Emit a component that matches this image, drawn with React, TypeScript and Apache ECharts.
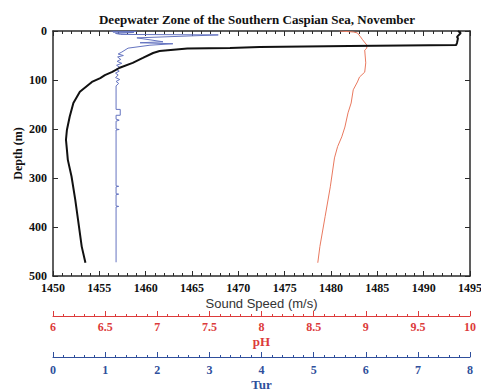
import React, { useEffect, useRef } from "react";
import * as echarts from "echarts";

// Sound speed profile: [speed (m/s), depth (m)]
const soundSpeed: [number, number][] = [
  [1493.7, 0], [1494.0, 4], [1493.6, 12], [1493.7, 15], [1493.6, 24], [1493.5, 28.6],
  [1482.0, 30.6], [1472.3, 32.7], [1469.1, 34.7], [1464.5, 35.7], [1461.5, 40.8],
  [1460.8, 44.9], [1459.7, 55], [1458.6, 65], [1457.2, 75], [1456.4, 83.5],
  [1455.6, 90], [1455.1, 96], [1454.2, 104], [1452.9, 124], [1452.2, 147],
  [1451.8, 175], [1451.5, 202], [1451.4, 222], [1451.5, 242], [1451.6, 263],
  [1452.0, 297], [1452.4, 344], [1452.7, 385], [1453.1, 440], [1453.5, 473],
];

// pH profile: [pH, depth (m)]
const phProfile: [number, number][] = [
  [8.75, 0], [8.88, 2], [8.92, 4], [8.95, 12], [8.97, 18], [9.01, 28.6], [9.01, 35],
  [8.99, 39], [9.0, 65], [8.99, 84], [8.94, 94], [8.92, 104], [8.88, 120],
  [8.86, 147], [8.83, 167], [8.8, 196], [8.77, 216], [8.73, 236], [8.7, 259],
  [8.66, 318], [8.61, 379], [8.56, 440], [8.54, 473],
];

// Turbidity profile: [Tur, depth (m)]
const turProfile: [number, number][] = [
  [1.1, 0], [1.6, 1], [1.15, 2], [1.55, 3], [1.2, 5], [1.3, 7], [3.17, 8],
  [1.61, 14], [2.11, 22], [1.67, 24], [2.3, 26], [1.86, 29], [1.44, 35],
  [1.32, 43], [1.25, 47], [1.35, 50], [1.24, 53], [1.3, 58], [1.23, 62],
  [1.32, 66], [1.22, 70], [1.28, 74], [1.21, 78], [1.27, 82], [1.2, 86],
  [1.25, 90], [1.2, 95], [1.28, 99], [1.21, 103], [1.26, 107], [1.21, 112],
  [1.21, 160], [1.29, 160], [1.29, 172], [1.21, 172], [1.21, 180], [1.27, 182],
  [1.21, 184], [1.21, 200], [1.27, 201], [1.21, 202], [1.21, 316], [1.26, 317],
  [1.21, 318], [1.21, 332], [1.26, 333], [1.21, 334], [1.21, 357], [1.26, 358],
  [1.21, 359], [1.21, 472],
];

const speedRange = [1450, 1495];
const phRange = [6, 10];
const turRange = [0, 8];
const depthRange = [0, 500];

const SERIF = "'Liberation Serif', 'Times New Roman', serif";
const SANS = "'Liberation Sans', Arial, sans-serif";
const FRAME = "#2a2a2a";
const RED = "#dc3b3b";
const RED_LINE = "#e9795f";
const BLUE = "#2f4f9c";
const BLUE_LINE = "#6574c0";

const plain = (v: number) => String(v);

export default function App() {
  const ref = useRef<HTMLDivElement>(null);

  useEffect(() => {
    if (!ref.current) return;
    const chart = echarts.init(ref.current, null, { renderer: "svg" });

    const frameTick = {
      show: true,
      inside: true,
      length: 5,
      lineStyle: { color: FRAME, width: 1 },
    };

    chart.setOption({
      animation: false,
      backgroundColor: "#ffffff",
      title: {
        text: "Deepwater Zone of the Southern Caspian Sea, November",
        left: 252,
        top: 8,
        textAlign: "center",
        textStyle: { fontFamily: SERIF, fontWeight: "bold", fontSize: 13, color: "#111" },
      },
      grid: {
        left: 53,
        top: 31,
        width: 417,
        height: 245,
        containLabel: false,
        outerBoundsMode: "none",
      },
      xAxis: [
        {
          type: "value",
          position: "bottom",
          min: speedRange[0],
          max: speedRange[1],
          interval: 5,
          name: "Sound Speed (m/s)",
          nameLocation: "middle",
          nameGap: 21,
          nameMoveOverlap: false,
          nameTextStyle: { fontFamily: SANS, fontSize: 13, color: "#333" },
          axisLine: { show: true, onZero: false, lineStyle: { color: FRAME, width: 1.5 } },
          axisTick: frameTick,
          minorTick: { show: true, splitNumber: 5, length: 3, lineStyle: { color: FRAME, width: 1 } },
          axisLabel: {
            margin: 6,
            fontFamily: SERIF,
            fontWeight: "bold",
            fontSize: 12,
            color: "#111",
            formatter: plain,
          },
          splitLine: { show: false },
        },
        {
          type: "value",
          position: "top",
          min: speedRange[0],
          max: speedRange[1],
          interval: 5,
          axisLine: { show: true, onZero: false, lineStyle: { color: FRAME, width: 1.5 } },
          axisTick: frameTick,
          minorTick: { show: true, splitNumber: 5, length: 3, lineStyle: { color: FRAME, width: 1 } },
          axisLabel: { show: false },
          splitLine: { show: false },
        },
        {
          type: "value",
          position: "bottom",
          offset: 40,
          min: phRange[0],
          max: phRange[1],
          interval: 0.5,
          name: "pH",
          nameLocation: "middle",
          nameGap: 19,
          nameMoveOverlap: false,
          nameTextStyle: { fontFamily: SERIF, fontWeight: "bold", fontSize: 13, color: RED },
          axisLine: { show: true, onZero: false, lineStyle: { color: RED, width: 1 } },
          axisTick: { show: true, inside: true, length: 5, lineStyle: { color: RED, width: 1 } },
          minorTick: { show: true, splitNumber: 5, length: 2, lineStyle: { color: RED, width: 1 } },
          axisLabel: {
            margin: 5,
            fontFamily: SERIF,
            fontWeight: "bold",
            fontSize: 12,
            color: RED,
          },
          splitLine: { show: false },
        },
        {
          type: "value",
          position: "bottom",
          offset: 81,
          min: turRange[0],
          max: turRange[1],
          interval: 1,
          name: "Tur",
          nameLocation: "middle",
          nameGap: 21,
          nameMoveOverlap: false,
          nameTextStyle: { fontFamily: SERIF, fontWeight: "bold", fontSize: 13, color: BLUE },
          axisLine: { show: true, onZero: false, lineStyle: { color: BLUE, width: 1 } },
          axisTick: { show: true, inside: true, length: 5, lineStyle: { color: BLUE, width: 1 } },
          minorTick: { show: true, splitNumber: 5, length: 2, lineStyle: { color: BLUE, width: 1 } },
          axisLabel: {
            margin: 7,
            fontFamily: SERIF,
            fontWeight: "bold",
            fontSize: 12,
            color: BLUE,
          },
          splitLine: { show: false },
        },
      ],
      yAxis: [
        {
          type: "value",
          position: "left",
          inverse: true,
          min: depthRange[0],
          max: depthRange[1],
          interval: 100,
          name: "Depth (m)",
          nameLocation: "middle",
          nameGap: 29,
          nameMoveOverlap: false,
          nameRotate: 90,
          nameTextStyle: { fontFamily: SERIF, fontWeight: "bold", fontSize: 12, color: "#111" },
          axisLine: { show: true, onZero: false, lineStyle: { color: FRAME, width: 1.5 } },
          axisTick: frameTick,
          axisLabel: {
            margin: 6,
            fontFamily: SERIF,
            fontWeight: "bold",
            fontSize: 12,
            color: "#111",
          },
          splitLine: { show: false },
        },
        {
          type: "value",
          position: "right",
          inverse: true,
          min: depthRange[0],
          max: depthRange[1],
          interval: 100,
          axisLine: { show: true, onZero: false, lineStyle: { color: FRAME, width: 1.5 } },
          axisTick: frameTick,
          axisLabel: { show: false },
          splitLine: { show: false },
        },
      ],
      series: [
        {
          name: "Tur",
          type: "line",
          xAxisIndex: 3,
          yAxisIndex: 0,
          data: turProfile,
          showSymbol: false,
          lineStyle: { color: BLUE_LINE, width: 1 },
          z: 2,
        },
        {
          name: "pH",
          type: "line",
          xAxisIndex: 2,
          yAxisIndex: 0,
          data: phProfile,
          showSymbol: false,
          lineStyle: { color: RED_LINE, width: 1 },
          z: 2,
        },
        {
          name: "Sound Speed",
          type: "line",
          xAxisIndex: 0,
          yAxisIndex: 0,
          data: soundSpeed,
          showSymbol: false,
          lineStyle: { color: "#111", width: 2 },
          z: 3,
        },
      ],
    });

    return () => chart.dispose();
  }, []);

  return (
    <div
      ref={ref}
      style={{ position: "fixed", left: 0, top: 0, width: 481, height: 392, background: "#fff" }}
    />
  );
}
